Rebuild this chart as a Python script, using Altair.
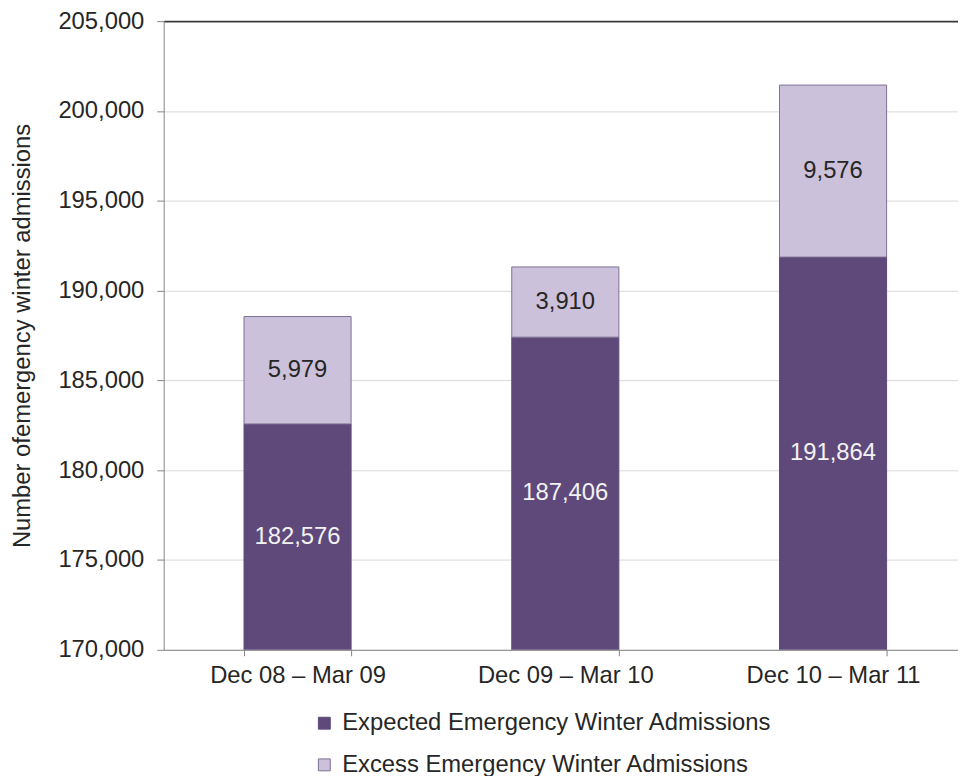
import altair as alt
import pandas as pd

categories = ["Dec 08 – Mar 09", "Dec 09 – Mar 10", "Dec 10 – Mar 11"]
expected = [182576, 187406, 191864]
excess = [5979, 3910, 9576]
series = ["Expected Emergency Winter Admissions", "Excess Emergency Winter Admissions"]
fill_colors = ["#5f497a", "#ccc1da"]
stroke_colors = ["#5f497a", "#7d7094"]
y_ticks = [170000, 175000, 180000, 185000, 190000, 195000, 200000, 205000]
Y_MIN, Y_MAX = 170000, 205000
FONT = "Liberation Sans"

rows = []
for c, e, x in zip(categories, expected, excess):
    rows.append({"period": c, "series": series[0], "value": e, "start": 0, "end": e,
                 "label_y": (Y_MIN + e) / 2, "dark": 1})
    rows.append({"period": c, "series": series[1], "value": x, "start": e, "end": e + x,
                 "label_y": e + x / 2, "dark": 0})
df = pd.DataFrame(rows)

x_scale = alt.Scale(domain=categories, paddingInner=0.6, paddingOuter=0.2833, align=0.5294)
x_enc = alt.X(
    "period:N",
    sort=categories,
    title=None,
    scale=x_scale,
    axis=alt.Axis(labelAngle=0, tickBand="extent", domainColor="#868686", tickColor="#868686",
                  tickSize=6, labelPadding=8, labelFont=FONT, labelFontSize=24,
                  labelColor="#262626", grid=False),
)
y_scale = alt.Scale(domain=[Y_MIN, Y_MAX], nice=False, zero=False)

bars = alt.Chart(df).mark_bar(clip=True, strokeWidth=1).encode(
    x=x_enc,
    y=alt.Y(
        "start:Q",
        scale=y_scale,
        title="Number ofemergency winter admissions",
        axis=alt.Axis(
            values=y_ticks, format=",.0f", tickSize=7, labelPadding=13,
            labelFont=FONT, labelFontSize=24, labelColor="#262626",
            titleFont=FONT, titleFontSize=24, titleFontWeight="normal", titleColor="#262626",
            titlePadding=24, domainColor="#868686", tickColor="#868686",
            grid=True,
            gridColor={"condition": {"test": "datum.value == 205000", "value": "#3a3a3a"},
                       "value": "#d9d9d9"},
            gridWidth={"condition": {"test": "datum.value == 205000", "value": 2},
                       "value": 1},
        ),
    ),
    y2="end:Q",
    color=alt.Color(
        "series:N",
        sort=series,
        scale=alt.Scale(domain=series, range=fill_colors),
        legend=alt.Legend(
            title=None, orient="none", legendX=150, legendY=696, direction="vertical",
            symbolType="square", symbolSize=144, labelFont=FONT, labelFontSize=24,
            labelColor="#262626", labelOffset=6, rowPadding=18, padding=0,
            symbolStrokeWidth=1, labelLimit=600,
        ),
    ),
    stroke=alt.Stroke("series:N", sort=series,
                      scale=alt.Scale(domain=series, range=stroke_colors)),
)

labels = alt.Chart(df).mark_text(font=FONT, fontSize=24, baseline="middle", align="center").encode(
    x=alt.X("period:N", sort=categories, scale=x_scale),
    y=alt.Y("label_y:Q", scale=y_scale),
    text=alt.Text("value:Q", format=","),
    color=alt.condition("datum.dark == 1", alt.value("#f2f2f2"), alt.value("#262626")),
)

chart = (
    alt.layer(bars, labels)
    .properties(width=801, height=634, autosize="none",
                padding={"left": 157, "top": 10, "right": 0, "bottom": 124})
    .configure_view(strokeWidth=0)
)

chart.save("out.html", embed_options={"renderer": "svg", "actions": False})
